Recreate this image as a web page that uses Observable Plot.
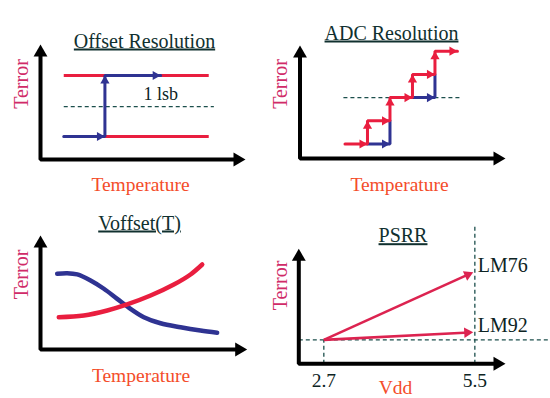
<!DOCTYPE html>
<html><head><meta charset="utf-8">
<script src="https://cdn.jsdelivr.net/npm/d3@7"></script>
<script src="https://cdn.jsdelivr.net/npm/@observablehq/plot@0.6"></script>
<style>
body{margin:0;background:#fff;}
#root{position:relative;width:550px;height:398px;overflow:hidden;background:#fff;}
.panel{position:absolute;width:275px;height:199px;}
.panel svg{overflow:visible;display:block;}
</style></head><body><div id="root"></div>
<script>
// ---------------- DATA ----------------
const titles = ["Offset Resolution", "ADC Resolution", "Voffset(T)", "PSRR"];
const yTitle = "Terror";
const tempTitle = "Temperature";
const vddTitle = "Vdd";

// Panel 1 — Offset Resolution (arbitrary units)
const offsetLevels = [2.15, 7.85];
const offsetSpan = [1.18, 8.54];
const offsetMidLevel = 4.95;
const offsetMidSpan = [1.18, 8.8];
const offsetBluePath = [[1.18, 2.15], [3.27, 2.15], [3.27, 7.85], [6.1, 7.85]];
const lsbLabel = "1 lsb";
const lsbAt = [5.23, 5.6];

// Panel 2 — ADC Resolution (1 unit = 1 step)
const adcRedPath = [[2,1],[3,1],[3,2],[4,2],[4,3],[5,3],[5,4],[6,4],[6,5],[7,5]];
const adcBluePaths = [[[3,1],[4,1],[4,2]], [[5,3],[6,3],[6,4]]];
const adcMidLevel = 3;
const adcMidSpan = [1.93, 7.13];

// Panel 3 — Voffset(T)
const voffBlue = [[0.84,7.14],[1.34,7.2],[1.85,7.08],[2.52,6.51],[3.19,5.73],[3.86,4.78],[4.53,3.84],[5.2,3.05],[6.04,2.48],[7.05,2.1],[8.05,1.79],[8.89,1.58]];
const voffRed = [[0.92,3.05],[2.18,3.21],[3.36,3.68],[4.36,4.25],[5.54,5.09],[6.71,6.13],[7.55,7.08],[8.14,8.02]];

// Panel 4 — PSRR
const vddTicks = [2.7, 5.5];
const psrrParts = ["LM76", "LM92"];
const psrrStart = 2.24;          // Terror at 2.7 V
const psrrEnd = [8.56, 2.95];     // Terror at 5.5 V
const psrrTipVdd = 5.47;
const psrrRefTop = 12.9;
const psrrRefRight = 6.9;

// ---------------- STYLE ----------------
const FONT = "Liberation Serif, 'Times New Roman', serif";
const TITLE_C = "#10302f", UNDER_C = "#2b7466", YLAB_C = "#d02b68", XLAB_C = "#f44d2a", INK = "#0d2424";
const RED = "#e91e3f", BLUE = "#2f3392", DASH = "#1c4f4c";
const W = 275, H = 199;

function makePanel(cfg) {
  const {ml, mr, mt, mb, xd, yd} = cfg;
  const kx = (W - ml - mr) / (xd[1] - xd[0]);
  const ky = (H - mt - mb) / (yd[1] - yd[0]);
  const at = (text, px, py, o = {}) => Plot.text([text], {text: d => d, frameAnchor: "top-left", dx: px - ml, dy: py - mt, fontFamily: FONT, lineAnchor: "bottom", textAnchor: "middle", ...o});
  const triR = h => Math.sqrt(h * h / Math.sqrt(3) / Math.PI);
  const heads = (segs, color, h) => segs.map(s => {
    const dxp = (s[2] - s[0]) * kx, dyp = -(s[3] - s[1]) * ky;
    const len = Math.hypot(dxp, dyp);
    const back = 2 * h / 3;
    return Plot.dot([s], {x: d => d[2], y: d => d[3], symbol: "triangle", r: triR(h),
      rotate: Math.atan2(dxp, -dyp) * 180 / Math.PI, fill: color, stroke: "none",
      dx: -dxp / len * back, dy: -dyp / len * back});
  });
  const axes = [
    Plot.line([[xd[0], yd[1]], [xd[0], yd[0]], [xd[1], yd[0]]], {x: d => d[0], y: d => d[1], stroke: "#000", strokeWidth: 4, strokeLinejoin: "miter", strokeLinecap: "butt"}),
    Plot.dot([[xd[1], yd[0], 90], [xd[0], yd[1], 0]], {x: d => d[0], y: d => d[1], rotate: d => d[2], symbol: "triangle", r: triR(12), fill: "#000", stroke: "none"})
  ];
  const labels = [
    at(cfg.title, cfg.titleAt[0], cfg.titleAt[1], {fontSize: 20, fill: TITLE_C}),
    at(yTitle, cfg.yAt[0], cfg.yAt[1], {fontSize: 20, fill: YLAB_C, rotate: -90}),
    at(cfg.xLabel, cfg.xAt[0], cfg.xAt[1], {fontSize: 19.5, fill: XLAB_C})
  ];
  const svg = Plot.plot({
    width: W, height: H, marginLeft: ml, marginRight: mr, marginTop: mt, marginBottom: mb,
    x: {domain: xd, axis: cfg.xAxis ? undefined : null},
    y: {domain: yd, axis: null},
    style: {background: "transparent", overflow: "visible", fontFamily: FONT},
    marks: [...cfg.marks({kx, ky, heads}), ...axes, ...labels]
  });
  svg.querySelectorAll("text").forEach(t => {
    if (t.textContent === cfg.title) {
      t.style.textDecoration = "underline";
      t.style.textDecorationColor = UNDER_C;
      t.style.textDecorationSkipInk = "none";
      t.style.textDecorationThickness = "1.3px";
    }
  });
  const div = document.createElement("div");
  div.className = "panel";
  div.style.left = cfg.left + "px";
  div.style.top = cfg.top + "px";
  div.appendChild(svg);
  document.getElementById("root").appendChild(div);
}

const segsOf = path => path.slice(1).map((p, i) => [path[i][0], path[i][1], p[0], p[1]]);

// Panel 1
makePanel({
  left: 0, top: 0, ml: 40, mr: 38, mt: 52, mb: 40, xd: [0, 10], yd: [0, 10],
  title: titles[0], titleAt: [144, 47], yAt: [27, 83.5], xLabel: tempTitle, xAt: [140, 190.7],
  marks: ({heads}) => [
    Plot.link(offsetLevels, {x1: offsetSpan[0], x2: offsetSpan[1], y1: d => d, y2: d => d, stroke: RED, strokeWidth: 3}),
    Plot.link([offsetMidLevel], {x1: offsetMidSpan[0], x2: offsetMidSpan[1], y1: d => d, y2: d => d, stroke: DASH, strokeWidth: 1.3, strokeDasharray: "4,3"}),
    Plot.line(offsetBluePath, {x: d => d[0], y: d => d[1], stroke: BLUE, strokeWidth: 3, strokeLinejoin: "miter"}),
    ...heads(segsOf(offsetBluePath), BLUE, 8),
    Plot.text([lsbLabel], {x: lsbAt[0], y: lsbAt[1], text: d => d, textAnchor: "start", lineAnchor: "bottom", fontSize: 18, fontFamily: FONT, fill: INK})
  ]
});

// Panel 2
makePanel({
  left: 275, top: 0, ml: 24.5, mr: 53, mt: 53, mb: 41, xd: [0, 8.78], yd: [0.375, 4.9],
  title: titles[1], titleAt: [116, 39], yAt: [11.3, 83.5], xLabel: tempTitle, xAt: [124, 190.7],
  marks: ({heads}) => [
    Plot.link([adcMidLevel], {x1: adcMidSpan[0], x2: adcMidSpan[1], y1: d => d, y2: d => d, stroke: DASH, strokeWidth: 1.3, strokeDasharray: "4,3"}),
    ...adcBluePaths.map(p => Plot.line(p, {x: d => d[0], y: d => d[1], stroke: BLUE, strokeWidth: 3, strokeLinejoin: "miter"})),
    ...heads(adcBluePaths.map(p => segsOf(p)[0]), BLUE, 8),
    Plot.line(adcRedPath, {x: d => d[0], y: d => d[1], stroke: RED, strokeWidth: 3, strokeLinejoin: "miter"}),
    ...heads(segsOf(adcRedPath), RED, 8)
  ]
});

// Panel 3
makePanel({
  left: 0, top: 199, ml: 40, mr: 36.3, mt: 44, mb: 49, xd: [0, 10], yd: [0, 10],
  title: titles[2], titleAt: [139, 30], yAt: [27, 75], xLabel: tempTitle, xAt: [140.5, 182.7],
  marks: () => [
    Plot.line(voffBlue, {x: d => d[0], y: d => d[1], stroke: BLUE, strokeWidth: 4.5, curve: "catmull-rom"}),
    Plot.line(voffRed, {x: d => d[0], y: d => d[1], stroke: RED, strokeWidth: 4.5, curve: "catmull-rom"})
  ]
});

// Panel 4
const psrrSegs = psrrEnd.map(e => [vddTicks[0], psrrStart, psrrTipVdd, e]);
makePanel({
  left: 275, top: 199, ml: 23.3, mr: 53, mt: 57.3, mb: 34.7, xd: [2.236, 5.92], yd: [0, 10], xAxis: true,
  title: titles[3], titleAt: [127.5, 42.7], yAt: [11.7, 86], xLabel: vddTitle, xAt: [120, 194],
  marks: ({heads}) => [
    Plot.link([psrrStart], {x1: 2.236, x2: psrrRefRight, y1: d => d, y2: d => d, stroke: DASH, strokeWidth: 1.3, strokeDasharray: "4,3"}),
    Plot.link([vddTicks[0]], {x1: d => d, x2: d => d, y1: 0, y2: psrrStart, stroke: DASH, strokeWidth: 1.3, strokeDasharray: "4,3"}),
    Plot.link([vddTicks[1]], {x1: d => d, x2: d => d, y1: 0, y2: psrrRefTop, stroke: DASH, strokeWidth: 1.3, strokeDasharray: "4,3"}),
    Plot.arrow(psrrSegs, {x1: d => d[0], y1: d => d[1], x2: d => d[2], y2: d => d[3], headLength: 0, insetEnd: 4, stroke: "#dc2350", strokeWidth: 2.6, strokeLinecap: "butt"}),
    ...heads(psrrSegs, "#dc2350", 9),
    Plot.text(psrrParts, {x: vddTicks[1], y: (d, i) => psrrEnd[i], text: d => d, dx: 3, textAnchor: "start", lineAnchor: "bottom", fontSize: 20, fontFamily: FONT, fill: INK}),
    Plot.axisX({ticks: vddTicks, tickSize: 0, tickPadding: 9, tickFormat: d => d.toFixed(1), fontSize: 19.5, fontFamily: FONT, color: INK, label: null})
  ]
});
</script></body></html>
